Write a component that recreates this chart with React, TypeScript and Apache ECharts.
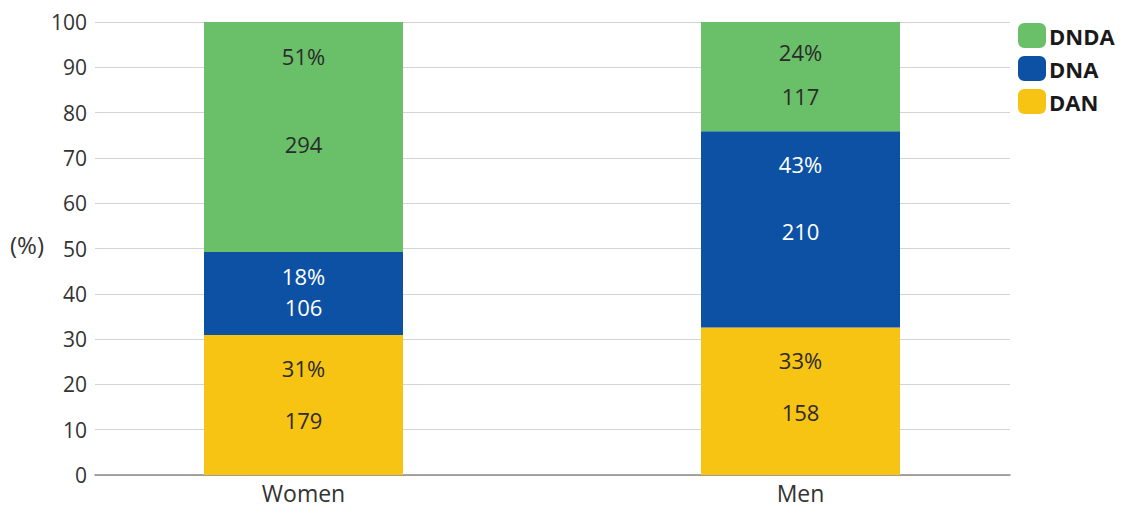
import React, { useEffect, useRef } from "react";
import * as echarts from "echarts";

const categories = ["Women", "Men"];
const seriesNames = ["DAN", "DNA", "DNDA"];
const countsDAN = [179, 158];
const countsDNA = [106, 210];
const countsDNDA = [294, 117];
const yTicks = [0, 10, 20, 30, 40, 50, 60, 70, 80, 90, 100];

// label styling (relative vertical centre within segment, line gap in px)
const labelStyle: Record<string, { mid: string; gap: number }[]> = {
  DAN: [
    { mid: "42%", gap: 52 },
    { mid: "40%", gap: 52 },
  ],
  DNA: [
    { mid: "48%", gap: 31 },
    { mid: "34%", gap: 67 },
  ],
  DNDA: [
    { mid: "34%", gap: 88 },
    { mid: "48%", gap: 44 },
  ],
};

const colors: Record<string, string> = {
  DAN: "#f8c414",
  DNA: "#0d51a4",
  DNDA: "#6abf69",
};
const textColors: Record<string, string> = {
  DAN: "#2b2b2b",
  DNA: "#ffffff",
  DNDA: "#2b2b2b",
};

const FONT = "'Open Sans', 'Noto Sans', sans-serif";

export default function App() {
  const ref = useRef<HTMLDivElement>(null);

  useEffect(() => {
    if (!ref.current) return;
    const chart = echarts.init(ref.current, null, { renderer: "svg" });
    const countsBy: Record<string, number[]> = {
      DAN: countsDAN,
      DNA: countsDNA,
      DNDA: countsDNDA,
    };
    const totals = categories.map(
      (_, i) => countsDAN[i] + countsDNA[i] + countsDNDA[i]
    );

    const series = seriesNames.map((name) => ({
      name,
      type: "bar",
      stack: "total",
      xAxisIndex: 1,
      yAxisIndex: 1,
      barWidth: 199,
      itemStyle: { color: colors[name] },
      data: countsBy[name].map((c, i) => {
        const pct = (c / totals[i]) * 100;
        const ls = labelStyle[name][i];
        return {
          value: pct,
          count: c,
          label: {
            show: true,
            position: ["50%", ls.mid],
            align: "center",
            verticalAlign: "middle",
            formatter: `{a|${Math.round(pct)}%}\n{a|${c}}`,
            rich: {
              a: {
                fontFamily: FONT,
                fontSize: 22,
                color: textColors[name],
                lineHeight: ls.gap,
                align: "center",
              },
            },
          },
        };
      }),
    }));

    chart.setOption({
      animation: false,
      textStyle: { fontFamily: FONT },
      legend: {
        data: ["DNDA", "DNA", "DAN"],
        orient: "vertical",
        left: 1018,
        top: 23,
        padding: 0,
        itemWidth: 28,
        itemHeight: 25,
        itemGap: 8,
        icon: "roundRect",
        textStyle: {
          fontFamily: FONT,
          fontSize: 22,
          fontWeight: "bold",
          color: "#1a1a1a",
          padding: [0, 0, 0, -2],
        },
      },
      grid: [
        { left: 95, right: 113, top: 22, bottom: 33 },
        { left: 55, width: 994, top: 22, bottom: 33 },
      ],
      xAxis: [
        {
          gridIndex: 0,
          type: "category",
          data: [""],
          axisLine: { show: true, lineStyle: { color: "#8a8a8a", width: 1.5 } },
          axisTick: { show: false },
          axisLabel: { show: false },
        },
        {
          gridIndex: 1,
          type: "category",
          data: categories,
          axisLine: { show: false },
          axisTick: { show: false },
          axisLabel: {
            fontFamily: FONT,
            fontSize: 23,
            lineHeight: 23,
            color: "#333",
            margin: 6,
          },
        },
      ],
      yAxis: [
        {
          gridIndex: 0,
          type: "value",
          min: 0,
          max: 100,
          interval: 10,
          axisLine: { show: false },
          axisTick: { show: false },
          splitLine: { lineStyle: { color: "#d4d4d4", width: 1.2 } },
          axisLabel: {
            fontFamily: FONT,
            fontSize: 21,
            color: "#333",
            margin: 8,
            formatter: (v: number) => (yTicks.includes(v) ? String(v) : ""),
          },
        },
        {
          gridIndex: 1,
          type: "value",
          min: 0,
          max: 100,
          show: false,
          splitLine: { show: false },
        },
      ],
      graphic: [
        {
          type: "text",
          left: 10,
          top: 232,
          style: {
            text: "(%)",
            fontFamily: FONT,
            fontSize: 24,
            fill: "#333",
          },
        },
      ],
      series,
    });
    return () => chart.dispose();
  }, []);

  return (
    <div
      ref={ref}
      style={{ position: "absolute", left: 0, top: 0, width: 1123, height: 508 }}
    />
  );
}
